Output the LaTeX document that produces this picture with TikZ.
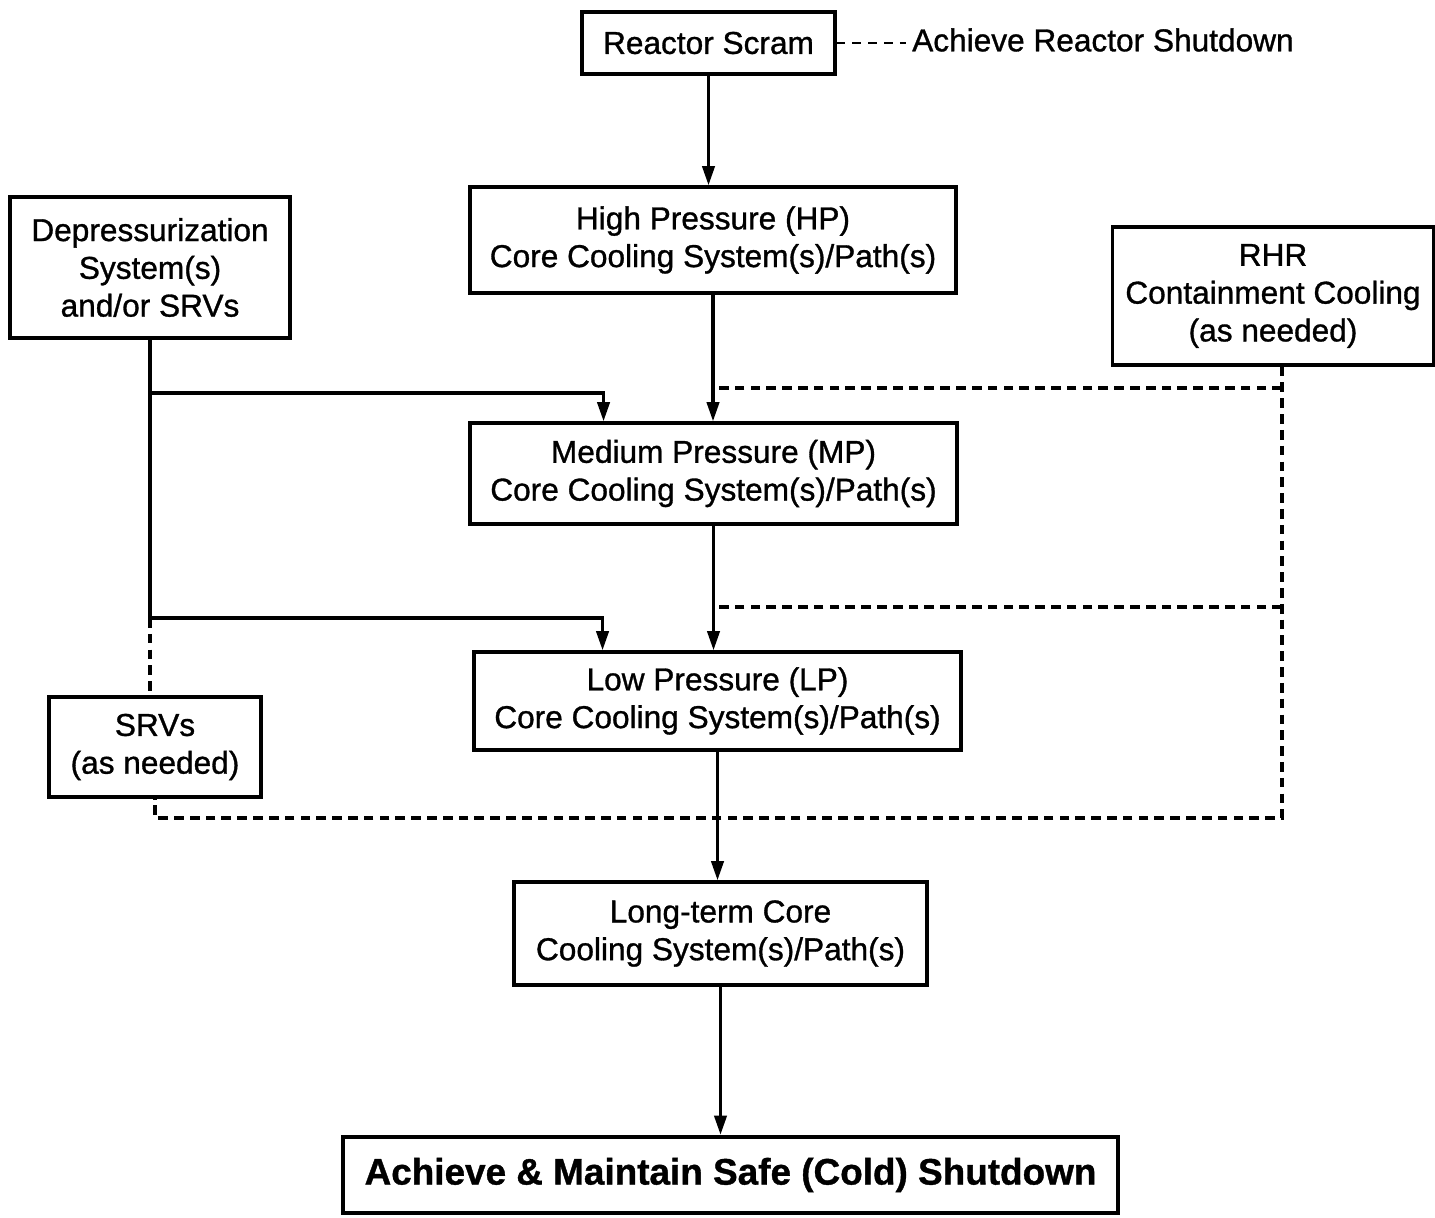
\documentclass[tikz,border=0pt]{standalone}
\usepackage{fontspec}
\setmainfont{Liberation Sans}[FakeBold=1]
\usetikzlibrary{arrows.meta, calc, positioning}

\begin{document}
\begin{tikzpicture}[
				x=0.02cm, y=-0.02cm,
				sysbox/.style={draw, line width=1.9pt, align=center,
					inner sep=2pt, font=\fontsize{18}{21.5}\selectfont},
				arr/.style={-{Triangle[length=11pt, width=7pt]}, line width=1.9pt},
				link/.style={line width=1.9pt},
				opt/.style={line width=2pt, dash pattern=on 5.5pt off 3.5pt}
				]
				\useasboundingbox (0,0) rectangle (1435,1217);
				\node[sysbox, minimum width=5.06cm, minimum height=1.24cm] (scram) at (708.5, 43)
				{Reactor Scram};
				\node[anchor=west, font=\fontsize{18}{21.5}\selectfont] (goal) at (906, 40)
				{Achieve Reactor Shutdown};
				\node[sysbox, minimum width=9.72cm, minimum height=2.12cm] (hp) at (713, 240)
				{High Pressure (HP)\\Core Cooling System(s)/Path(s)};
				\node[sysbox, minimum width=5.6cm, minimum height=2.82cm] (dep) at (150, 267.5)
				{Depressurization\\System(s)\\and/or SRVs};
				\node[sysbox, minimum width=6.42cm, minimum height=2.76cm] (rhr) at (1273, 296)
				{RHR\\Containment Cooling\\(as needed)};
				\node[sysbox, minimum width=9.74cm, minimum height=2.02cm] (mp) at (713.5, 473.5)
				{Medium Pressure (MP)\\Core Cooling System(s)/Path(s)};
				\node[sysbox, minimum width=9.74cm, minimum height=1.96cm] (lp) at (717.5, 701)
				{Low Pressure (LP)\\Core Cooling System(s)/Path(s)};
				\node[sysbox, minimum width=4.24cm, minimum height=2.0cm] (srv) at (155, 747)
				{SRVs\\(as needed)};
				\node[sysbox, minimum width=8.26cm, minimum height=2.06cm] (lt) at (720.5, 933.5)
				{Long-term Core\\Cooling System(s)/Path(s)};
				\node[sysbox, line width=2.5pt, minimum width=15.5cm, minimum height=1.52cm,
					font=\fontsize{21}{25}\selectfont\bfseries] (safe) at (730.5, 1175)
				{Achieve \& Maintain Safe (Cold) Shutdown};
				\coordinate (dj1) at (150, 393);
				\coordinate (dj2) at (150, 618);
				\coordinate (r1) at (1282, 388);
				\coordinate (r2) at (1282, 607);
				\coordinate (r3) at (1282, 818);
				\coordinate (s3) at (155, 818);
				\draw[line width=1.2pt, dash pattern=on 5pt off 4pt] (scram.east) -- (scram.east -| goal.west);
				\draw[arr] (scram.south) -- (scram.south |- hp.north);
				\draw[arr] (hp.south) -- (hp.south |- mp.north);
				\draw[arr] (mp.south) -- (mp.south |- lp.north);
				\draw[arr] (lp.south) -- (lp.south |- lt.north);
				\draw[arr] (lt.south) -- (lt.south |- safe.north);
				\draw[link] (dep.south) -- (dj2);
				\draw[opt] (dj2) -- (dj2 |- srv.north);
				\draw[arr] (dj1) -| ([xshift=-2.2cm]mp.north);
				\draw[arr] (dj2) -| ([xshift=-2.3cm]lp.north);
				\draw[opt] (rhr.south -| r1) -- (r3) -- (s3) -- (srv.south);
				\draw[opt] (r1) -- (hp.south |- r1);
				\draw[opt] (r2) -- (mp.south |- r2);
			\end{tikzpicture}
\end{document}
